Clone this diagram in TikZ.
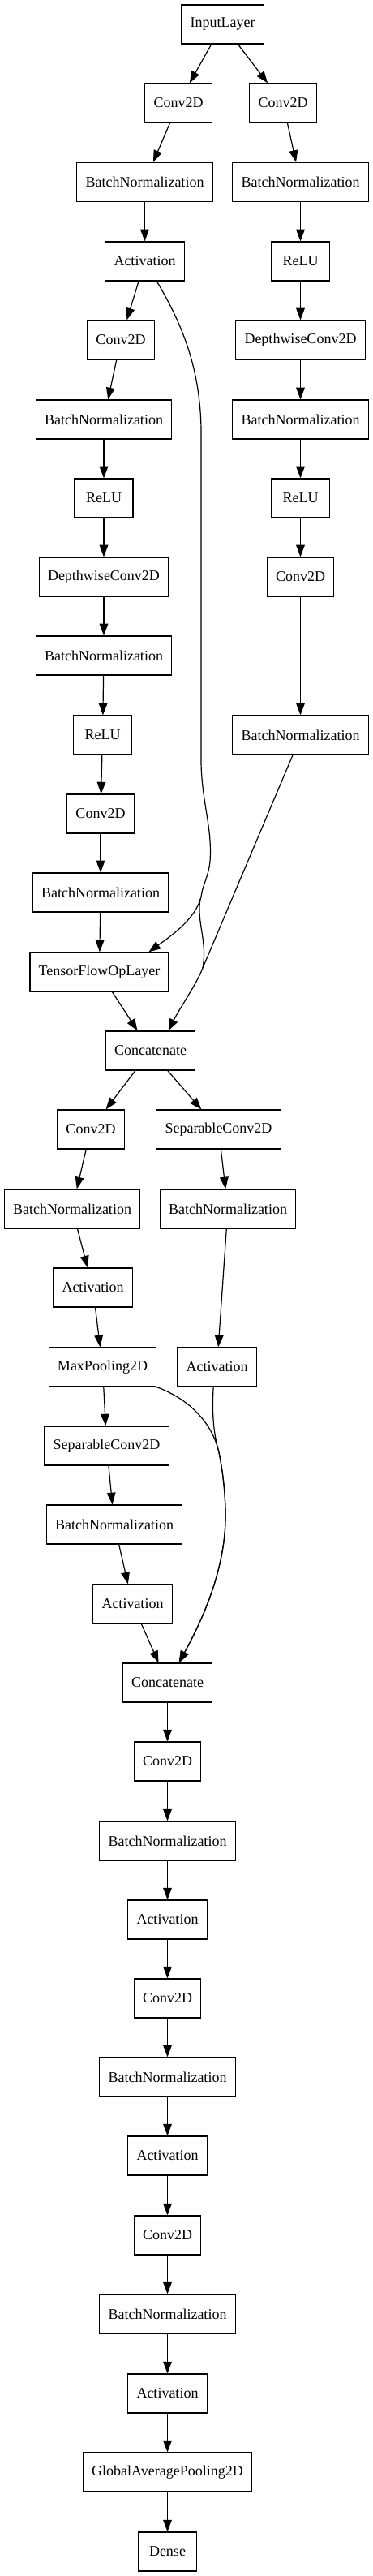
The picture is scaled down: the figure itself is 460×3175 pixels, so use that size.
\documentclass[tikz,border=0pt]{standalone}
\usepackage{fontspec}
\setmainfont{Liberation Serif}
\usetikzlibrary{arrows.meta}

\begin{document}
\begin{tikzpicture}[x=0.75pt,y=-0.75pt,
  block/.style={draw, line width=0.9pt, minimum width=54pt, minimum height=36pt,
    inner xsep=8pt, font=\fontsize{13.5}{16}\selectfont},
  link/.style={-{Triangle[length=11pt,width=8pt]}, line width=0.9pt}]
\useasboundingbox (0,0) rectangle (460,3175);
% Input
\node[block] (inp) at (274.5,30) {InputLayer};
% Left stem
\node[block] (convA) at (220,127) {Conv2D};
\node[block] (bnA) at (178.5,224.5) {BatchNormalization};
\node[block] (actA) at (178.5,322) {Activation};
\node[block] (convB) at (149,419) {Conv2D};
\node[block] (bnB) at (128,517) {BatchNormalization};
\node[block] (reluB) at (128,614) {ReLU};
\node[block] (dwB) at (128,711) {DepthwiseConv2D};
\node[block] (bnC) at (128,808) {BatchNormalization};
\node[block] (reluC) at (126.5,906) {ReLU};
\node[block] (convC) at (124,1003) {Conv2D};
\node[block] (bnD) at (124,1100) {BatchNormalization};
\node[block] (tfop) at (122.5,1198) {TensorFlowOpLayer};
% Right stem
\node[block] (convR) at (349,127) {Conv2D};
\node[block] (bnR) at (370.5,224.5) {BatchNormalization};
\node[block] (reluR) at (370.5,322) {ReLU};
\node[block] (dwR) at (370.5,419) {DepthwiseConv2D};
\node[block] (bnR2) at (370.5,517) {BatchNormalization};
\node[block] (reluR2) at (370.5,614) {ReLU};
\node[block] (convR2) at (370.5,711) {Conv2D};
\node[block] (bnR3) at (370.5,906) {BatchNormalization};
% First merge and the two branches after it
\node[block] (catA) at (185.5,1295) {Concatenate};
\node[block] (convM) at (112,1392) {Conv2D};
\node[block] (sepM) at (269.5,1392) {SeparableConv2D};
\node[block] (bnM) at (89,1490) {BatchNormalization};
\node[block] (bnS) at (281,1490) {BatchNormalization};
\node[block] (actM) at (114.5,1587) {Activation};
\node[block] (pool) at (126.5,1685) {MaxPooling2D};
\node[block] (actS) at (267.5,1685) {Activation};
\node[block] (sepP) at (131.5,1782) {SeparableConv2D};
\node[block] (bnP) at (141,1879) {BatchNormalization};
\node[block] (actP) at (163.5,1977) {Activation};
\node[block] (catB) at (206.5,2074) {Concatenate};
% Straight links
\foreach \a/\b in {inp/convA, inp/convR, convA/bnA, convR/bnR, bnA/actA, bnR/reluR,
    actA/convB, reluR/dwR, convB/bnB, dwR/bnR2, bnB/reluB, bnR2/reluR2, reluB/dwB,
    reluR2/convR2, dwB/bnC, convR2/bnR3, bnC/reluC, reluC/convC, convC/bnD, bnD/tfop,
    tfop/catA, catA/convM, catA/sepM, convM/bnM, sepM/bnS, bnM/actM, bnS/actS,
    actM/pool, pool/sepP, sepP/bnP, bnP/actP, actP/catB} {
    \draw[link] (\a) -- (\b);
}
% Skip from the first activation
\draw[link] (actA.-59) .. controls (222,395) and (247,450) .. (248,530) -- (248,940)
  .. controls (249,990) and (262,1020) .. (259,1062)
  .. controls (257,1080) and (250,1092) .. (249,1100)
  .. controls (245,1130) and (213,1152) .. (tfop.22.7);
% Right stem into the merge
\draw[link] (bnR3.-111.6) -- (250,1193) .. controls (243,1212) and (222,1242) .. (catA.48);
\draw[line width=0.9pt] (247,1108) .. controls (242,1135) and (256,1160) .. (250,1193);
% Pooling shortcut and right branch into the second merge
\draw[link] (pool.south east) .. controls (235,1725) and (262,1755) .. (270,1790)
  .. controls (278,1830) and (280,1870) .. (276,1900)
  .. controls (268,1960) and (242,2010) .. (catB.60.6);
\draw[link] (actS.-100.6) .. controls (261,1745) and (264,1770) .. (270,1790)
  .. controls (278,1830) and (280,1870) .. (276,1900)
  .. controls (268,1960) and (242,2010) .. (catB.60.6);
% Tail
\foreach \n/\t/\y [remember=\n as \p (initially catB)] in {tconvA/Conv2D/2171,
    tbnA/BatchNormalization/2269, tactA/Activation/2366, tconvB/Conv2D/2463,
    tbnB/BatchNormalization/2560, tactB/Activation/2657, tconvC/Conv2D/2755,
    tbnC/BatchNormalization/2852, tactC/Activation/2950,
    gap/GlobalAveragePooling2D/3047, dense/Dense/3145} {
    \node[block] (\n) at (206.5,\y) {\t};
    \draw[link] (\p) -- (\n);
}
\end{tikzpicture}
\end{document}
